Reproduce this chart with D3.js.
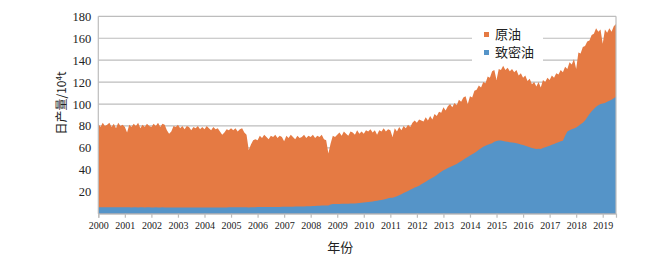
<!DOCTYPE html>
<html>
<head>
<meta charset="utf-8">
<script src="https://cdn.jsdelivr.net/npm/d3@7"></script>
<style>
  body { margin: 0; background: #fff; }
  svg { display: block; }
</style>
</head>
<body>
<div id="chart"></div>
<script>
// monthly values, Jan 2000 .. Jul 2019 (10^4 t/d)
const crudeOil = [
  82, 79, 83, 80, 81, 83, 79, 82, 78, 83, 80, 81,
  79, 74, 81, 79, 82, 80, 83, 78, 81, 79, 82, 80,
  79, 82, 80, 83, 79, 82, 81, 76, 73, 75, 80, 79,
  81, 78, 80, 77, 80, 79, 76, 79, 78, 80, 77, 79,
  77, 80, 78, 76, 79, 77, 78, 75, 72, 74, 77, 76,
  78, 76, 78, 75, 77, 78, 74, 72, 58, 63, 67, 68,
  67, 71, 69, 72, 70, 68, 71, 70, 72, 69, 71, 70,
  66, 71, 69, 72, 70, 68, 71, 69, 70, 72, 69, 71,
  70, 72, 69, 71, 70, 72, 68, 67, 55, 64, 71, 70,
  72, 74, 71, 75, 73, 71, 75, 74, 72, 76, 73, 75,
  73, 76, 75, 77, 74, 76, 72, 76, 75, 78, 75, 77,
  76, 70, 78, 75, 79, 76, 80, 78, 81, 79, 83, 85,
  83, 86, 85, 84, 88, 85, 89, 86, 91, 89, 93, 92,
  97, 94, 98, 100, 97, 101, 99, 104, 102, 106, 107, 100,
  107, 106, 112, 113, 117, 115, 120, 119, 125, 124, 130, 131,
  122, 132, 131, 135, 131, 133, 130, 132, 129, 131, 126, 128,
  124, 126, 121, 123, 118, 120, 116, 120, 115, 122, 120, 124,
  122, 126, 124, 128, 127, 131, 129, 134, 132, 138, 136, 141,
  132, 147, 146, 152, 153, 157, 158, 163, 164, 169, 166, 168,
  155, 168, 165, 169, 166, 171, 173
];

const tightOil = [
  5.9, 5.8, 5.9, 5.9, 5.8, 5.9, 5.9, 5.8, 5.8, 5.9, 5.9, 5.8,
  5.8, 5.8, 5.8, 5.7, 5.8, 5.8, 5.7, 5.8, 5.8, 5.7, 5.8, 5.8,
  5.7, 5.7, 5.8, 5.7, 5.7, 5.8, 5.7, 5.7, 5.6, 5.7, 5.7, 5.7,
  5.7, 5.7, 5.7, 5.7, 5.7, 5.7, 5.7, 5.7, 5.7, 5.7, 5.7, 5.7,
  5.7, 5.7, 5.7, 5.7, 5.7, 5.7, 5.7, 5.7, 5.6, 5.7, 5.7, 5.8,
  5.8, 5.8, 5.8, 5.8, 5.8, 5.8, 5.8, 5.8, 5.6, 5.8, 5.9, 5.9,
  6.0, 6.0, 6.0, 6.1, 6.1, 6.1, 6.1, 6.2, 6.2, 6.2, 6.2, 6.3,
  6.3, 6.3, 6.4, 6.4, 6.4, 6.5, 6.5, 6.5, 6.6, 6.6, 6.7, 6.7,
  6.9, 7.0, 7.1, 7.2, 7.3, 7.4, 7.5, 7.5, 7.4, 8.5, 8.8, 8.8,
  8.9, 8.9, 9.0, 9.0, 9.1, 9.1, 9.2, 9.3, 9.4, 9.6, 9.8, 10.0,
  10.3, 10.5, 10.7, 10.9, 11.2, 11.5, 11.9, 12.2, 12.6, 13.0, 13.5, 14.0,
  14.5, 14.6, 15.3, 16.0, 16.8, 17.8, 18.8, 19.8, 20.8, 21.8, 22.8, 23.8,
  24.5, 25.6, 26.8, 28.0, 29.2, 30.4, 31.6, 32.8, 34.0, 35.4, 36.8, 38.3,
  39.6, 40.6, 41.6, 42.5, 43.4, 44.4, 45.4, 46.6, 47.9, 49.2, 50.6, 51.8,
  53.0, 54.2, 55.4, 56.8, 58.2, 59.6, 61.0, 62.0, 62.8, 63.6, 64.2, 65.5,
  66.2, 66.8, 66.7, 66.2, 65.8, 65.5, 65.2, 65.0, 64.6, 64.2, 63.8, 63.2,
  62.7, 62.0, 61.3, 60.6, 60.0, 59.4, 59.0, 59.2, 59.0, 59.8, 60.5, 61.2,
  62.0, 62.8, 63.6, 64.4, 65.2, 66.0, 66.6, 71.0, 75.0, 76.0, 77.0, 77.8,
  78.5, 80.0, 81.5, 83.0, 85.0, 88.0, 91.0, 93.5, 95.5, 97.5, 99.0, 100.0,
  100.5, 101.0, 102.0, 103.0, 104.0, 105.2, 106.6
];

const yearTicks = d3.range(2000, 2020);
const valueTicks = [20, 40, 60, 80, 100, 120, 140, 160, 180];
const seriesNames = ['原油', '致密油'];
const COLORS = { crude: '#E57A43', tight: '#5594C8' };

const width = 652;
const height = 262;
const plot = { left: 98.3, right: 616, top: 16.3, bottom: 213.7 };
const GRID = '#BDBDBD';
const SERIF = '"Liberation Serif", "DejaVu Serif", serif';
const CJK = '"Noto Sans CJK SC", sans-serif';

const rows = crudeOil.map((v, i) => ({ t: 2000 + i / 12, crude: v, tight: tightOil[i] }));

const svg = d3.select('#chart')
  .append('svg')
  .attr('width', width)
  .attr('height', height);

const x = d3.scaleLinear().domain([2000, 2019.5]).range([plot.left, plot.right]);
const y = d3.scaleLinear().domain([0, 180]).range([plot.bottom, plot.top]);

// gridlines
svg.append('g')
  .selectAll('line')
  .data(valueTicks)
  .join('line')
  .attr('x1', plot.left)
  .attr('x2', plot.right)
  .attr('y1', d => y(d))
  .attr('y2', d => y(d))
  .attr('stroke', GRID)
  .attr('stroke-width', 1.2);

const area = key => d3.area()
  .x(d => x(d.t))
  .y0(y(0))
  .y1(d => y(d[key]));

svg.append('path').datum(rows).attr('fill', COLORS.crude).attr('d', area('crude'));
svg.append('path').datum(rows).attr('fill', COLORS.tight).attr('d', area('tight'));

// frame: left & right edges
[plot.left, plot.right].forEach(px => {
  svg.append('line')
    .attr('x1', px).attr('x2', px)
    .attr('y1', plot.top).attr('y2', plot.bottom)
    .attr('stroke', GRID)
    .attr('stroke-width', 1.2);
});

// x axis
const xAxis = svg.append('g')
  .attr('transform', `translate(0,${plot.bottom})`)
  .call(d3.axisBottom(x).tickValues(yearTicks).tickFormat(d3.format('d')).tickSize(4).tickPadding(4));
xAxis.select('.domain').attr('stroke', GRID).attr('stroke-width', 1.2);
xAxis.selectAll('.tick line').attr('stroke', GRID).attr('stroke-width', 1.2);
xAxis.selectAll('.tick text')
  .attr('font-family', SERIF)
  .attr('font-size', 10)
  .attr('fill', '#222');

// y axis labels
const yAxis = svg.append('g')
  .attr('transform', `translate(${plot.left},0)`)
  .call(d3.axisLeft(y).tickValues(valueTicks).tickSize(0).tickPadding(7));
yAxis.select('.domain').remove();
yAxis.selectAll('.tick text')
  .attr('font-family', SERIF)
  .attr('font-size', 12.5)
  .attr('fill', '#222');

// axis titles
svg.append('text')
  .attr('x', (plot.left + plot.right) / 2 - 17)
  .attr('y', 252)
  .attr('text-anchor', 'middle')
  .attr('font-family', CJK)
  .attr('font-size', 13)
  .attr('fill', '#222')
  .text('年份');

const yTitle = svg.append('text')
  .attr('transform', 'translate(66,103) rotate(-90)')
  .attr('text-anchor', 'middle')
  .attr('font-family', CJK)
  .attr('font-size', 12)
  .attr('fill', '#222');
yTitle.append('tspan').text('日产量/10');
yTitle.append('tspan').attr('font-size', 8).attr('dy', -4).text('4');
yTitle.append('tspan').attr('dy', 4).text('t');

// legend
const legend = svg.append('g').attr('transform', 'translate(472,26)');
legend.append('rect').attr('width', 71).attr('height', 38).attr('fill', '#fff');
seriesNames.forEach((name, i) => {
  const row = legend.append('g').attr('transform', `translate(0,${8 + i * 18})`);
  row.append('rect')
    .attr('x', 12).attr('y', -2)
    .attr('width', 5).attr('height', 5)
    .attr('fill', i === 0 ? COLORS.crude : COLORS.tight);
  row.append('text')
    .attr('x', 23)
    .attr('y', 5)
    .attr('font-family', CJK)
    .attr('font-size', 13)
    .attr('fill', '#222')
    .text(name);
});
</script>
</body>
</html>
